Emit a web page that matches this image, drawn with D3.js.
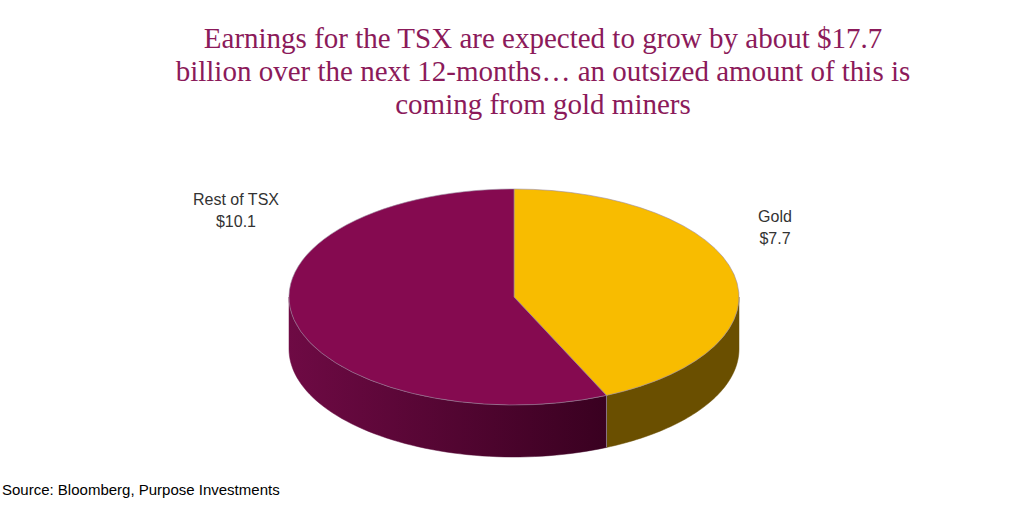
<!DOCTYPE html>
<html><head><meta charset="utf-8">
<script src="https://cdn.jsdelivr.net/npm/d3@7"></script>
<style>body{margin:0;background:#fff}</style>
</head><body>
<svg id="chart" width="1024" height="512"></svg>
<script>
const categories = ["Gold", "Rest of TSX"];
const values = [7.7, 10.1];
const valueLabels = ["$7.7", "$10.1"];
const titleLines = [
  "Earnings for the TSX are expected to grow by about $17.7",
  "billion over the next 12-months\u2026 an outsized amount of this is",
  "coming from gold miners"
];
const source = "Source: Bloomberg, Purpose Investments";

const svg = d3.select("#chart");
const cx = 514, cy = 297, rx = 225, ry = 108, depth = 52;
const topColors = ["#f8bc00", "#850a50"];

const pie = d3.pie().sort(null).value((d) => d)(values);

// point on top ellipse; t measured clockwise from 12 o'clock
const pt = (t, dy = 0) => [cx + rx * Math.sin(t), cy - ry * Math.cos(t) + dy];

const defs = svg.append("defs");
const grad = defs.append("linearGradient").attr("id", "purpleSide")
  .attr("gradientUnits", "userSpaceOnUse")
  .attr("x1", cx - rx).attr("x2", cx + rx * 0.5).attr("y1", 0).attr("y2", 0);
grad.append("stop").attr("offset", "0%").attr("stop-color", "#6e0a44");
grad.append("stop").attr("offset", "100%").attr("stop-color", "#36001e");
const sideFills = ["#6a4f00", "url(#purpleSide)"];

// side walls (front half only: t in [PI/2, 3PI/2])
pie.forEach((s, i) => {
  const a0 = Math.max(s.startAngle, Math.PI / 2);
  const a1 = Math.min(s.endAngle, Math.PI * 1.5);
  if (a1 <= a0) return;
  const n = 60, top = [], bot = [];
  for (let k = 0; k <= n; k++) {
    const t = a0 + (a1 - a0) * k / n;
    top.push(pt(t));
    bot.push(pt(t, depth));
  }
  const pts = top.concat(bot.reverse());
  svg.append("path").attr("d", "M" + pts.map((p) => p.join(",")).join("L") + "Z")
    .attr("fill", sideFills[i]).attr("stroke", sideFills[i]).attr("stroke-width", 0.5);
});

// top faces
const arc = d3.arc().innerRadius(0).outerRadius(rx);
svg.append("g").attr("transform", `translate(${cx},${cy}) scale(1,${ry / rx})`)
  .selectAll("path").data(pie).join("path")
  .attr("d", arc).attr("fill", (d, i) => topColors[i])
  .attr("stroke", "#9a8aa0").attr("stroke-width", 0.6).attr("vector-effect", "non-scaling-stroke");

// slice edge on the side wall
const edge = pt(pie[0].endAngle);
svg.append("line").attr("x1", edge[0]).attr("y1", edge[1]).attr("x2", edge[0]).attr("y2", edge[1] + depth)
  .attr("stroke", "#9a8aa0").attr("stroke-width", 0.8);

// labels
const labelPos = [[775, 222], [236, 205]];
pie.forEach((s, i) => {
  const g = svg.append("text").attr("text-anchor", "middle")
    .attr("font-family", "Liberation Sans, Arial, sans-serif").attr("font-size", 16).attr("fill", "#333");
  g.append("tspan").attr("x", labelPos[i][0]).attr("y", labelPos[i][1]).text(categories[i]);
  g.append("tspan").attr("x", labelPos[i][0]).attr("y", labelPos[i][1] + 22).text(valueLabels[i]);
});

svg.append("g").selectAll("text").data(titleLines).join("text")
  .attr("x", 543).attr("y", (d, i) => 48 + i * 33)
  .attr("text-anchor", "middle").attr("font-family", "Liberation Serif, Georgia, serif")
  .attr("font-size", 29).attr("fill", "#8b1a5a").text((d) => d);

svg.append("text").attr("x", 2).attr("y", 495)
  .attr("font-family", "Liberation Sans, Arial, sans-serif").attr("font-size", 15)
  .attr("fill", "#000").text(source);
</script>
</body></html>
